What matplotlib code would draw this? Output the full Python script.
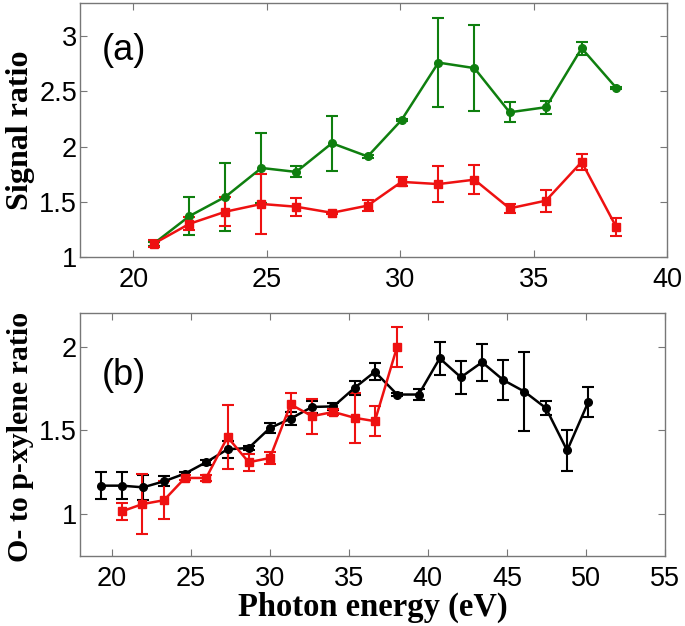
import matplotlib.pyplot as plt

# (a) signal ratio, green and red series
xa_green = [20.76, 22.1, 23.45, 24.8, 26.1, 27.44, 28.78, 30.05, 31.43, 32.78, 34.1, 35.46, 36.8, 38.1]
ya_green = [1.12, 1.37, 1.545, 1.806, 1.77, 2.03, 1.91, 2.24, 2.76, 2.71, 2.31, 2.356, 2.89, 2.53]
ea_green = [0.02, 0.17, 0.31, 0.32, 0.05, 0.25, 0.01, 0.01, 0.40, 0.39, 0.09, 0.06, 0.06, 0.01]

xa_red = [20.76, 22.1, 23.45, 24.8, 26.1, 27.44, 28.78, 30.05, 31.43, 32.78, 34.1, 35.46, 36.8, 38.1]
ya_red = [1.12, 1.30, 1.41, 1.48, 1.455, 1.40, 1.465, 1.68, 1.66, 1.70, 1.44, 1.51, 1.86, 1.27]
ea_red = [0.03, 0.06, 0.13, 0.27, 0.08, 0.01, 0.05, 0.04, 0.16, 0.13, 0.04, 0.10, 0.07, 0.08]

# (b) O- to p-xylene ratio, black and red series
xb_black = [19.3, 20.63, 21.99, 23.31, 24.64, 25.98, 27.33, 28.67, 30.01, 31.32, 32.68, 34.03,
            35.37, 36.65, 38.06, 39.42, 40.75, 42.09, 43.43, 44.78, 46.10, 47.47, 48.81, 50.14]
yb_black = [1.17, 1.17, 1.16, 1.196, 1.242, 1.31, 1.387, 1.395, 1.514, 1.57, 1.64, 1.643,
            1.754, 1.85, 1.714, 1.714, 1.93, 1.817, 1.907, 1.80, 1.732, 1.633, 1.38, 1.667]
eb_black = [0.08, 0.08, 0.075, 0.03, 0.01, 0.015, 0.05, 0.01, 0.03, 0.04, 0.035, 0.02,
            0.04, 0.05, 0.01, 0.035, 0.10, 0.10, 0.11, 0.12, 0.235, 0.04, 0.125, 0.09]

xb_red = [20.63, 21.95, 23.31, 24.64, 25.98, 27.33, 28.67, 30.01, 31.32, 32.68, 34.03, 35.37, 36.65, 38.06]
yb_red = [1.016, 1.06, 1.083, 1.216, 1.216, 1.46, 1.31, 1.335, 1.655, 1.585, 1.61, 1.575, 1.555, 2.0]
eb_red = [0.05, 0.18, 0.115, 0.015, 0.02, 0.19, 0.05, 0.035, 0.07, 0.105, 0.02, 0.15, 0.09, 0.12]

green = "#0f7f0f"
red = "#ee1111"

plt.rcParams["font.family"] = ["Liberation Sans", "DejaVu Sans"]

fig = plt.figure(figsize=(6.85, 6.26), dpi=100)
ax1 = fig.add_axes([0.1168, 0.5895, 0.857, 0.4058])
ax2 = fig.add_axes([0.1168, 0.1118, 0.854, 0.388])

kw = dict(lw=1.8, capsize=4, capthick=1.5, elinewidth=1.5, markersize=5.5)
ax1.errorbar(xa_green, ya_green, yerr=ea_green, color=green, marker="o", **kw)
ax1.errorbar(xa_red, ya_red, yerr=ea_red, color=red, marker="s", **kw)

ax2.errorbar(xb_black, yb_black, yerr=eb_black, color="black", marker="o", **kw)
ax2.errorbar(xb_red, yb_red, yerr=eb_red, color=red, marker="s", **kw)

ax1.set_xlim(18, 40)
ax1.set_ylim(1, 3.3)
ax1.set_xticks([20, 25, 30, 35, 40])
ax1.set_yticks([1, 1.5, 2, 2.5, 3])
ax1.set_yticklabels(["1", "1.5", "2", "2.5", "3"])

ax2.set_xlim(18, 55)
ax2.set_ylim(0.75, 2.2)
ax2.set_xticks([20, 25, 30, 35, 40, 45, 50, 55])
ax2.set_yticks([1, 1.5, 2])
ax2.set_yticklabels(["1", "1.5", "2"])

for ax in (ax1, ax2):
    ax.tick_params(direction="in", top=True, right=True, length=5, width=0.8,
                   color="#777777", labelsize=19.5)
    ax.tick_params(axis="x", pad=7)
    ax.tick_params(axis="y", pad=2)
    for s in ax.spines.values():
        s.set_color("#777777")
        s.set_linewidth(1.0)

ax1.text(0.075, 0.811, "(a)", transform=ax1.transAxes, fontsize=26,
         ha="center", va="center")
ax2.text(0.075, 0.745, "(b)", transform=ax2.transAxes, fontsize=26,
         ha="center", va="center")

lab = dict(family=["Liberation Serif", "DejaVu Serif"], fontweight="bold")
ax1.set_ylabel("Signal ratio", fontsize=23, **lab)
ax2.set_ylabel("O- to p-xylene ratio", fontsize=21.5, **lab)
ax2.set_xlabel("Photon energy (eV)", fontsize=23.5, labelpad=0, **lab)

ax1.yaxis.set_label_coords(-0.076, 0.5)
ax2.yaxis.set_label_coords(-0.078, 0.49)

plt.savefig("out.png", dpi=100)
